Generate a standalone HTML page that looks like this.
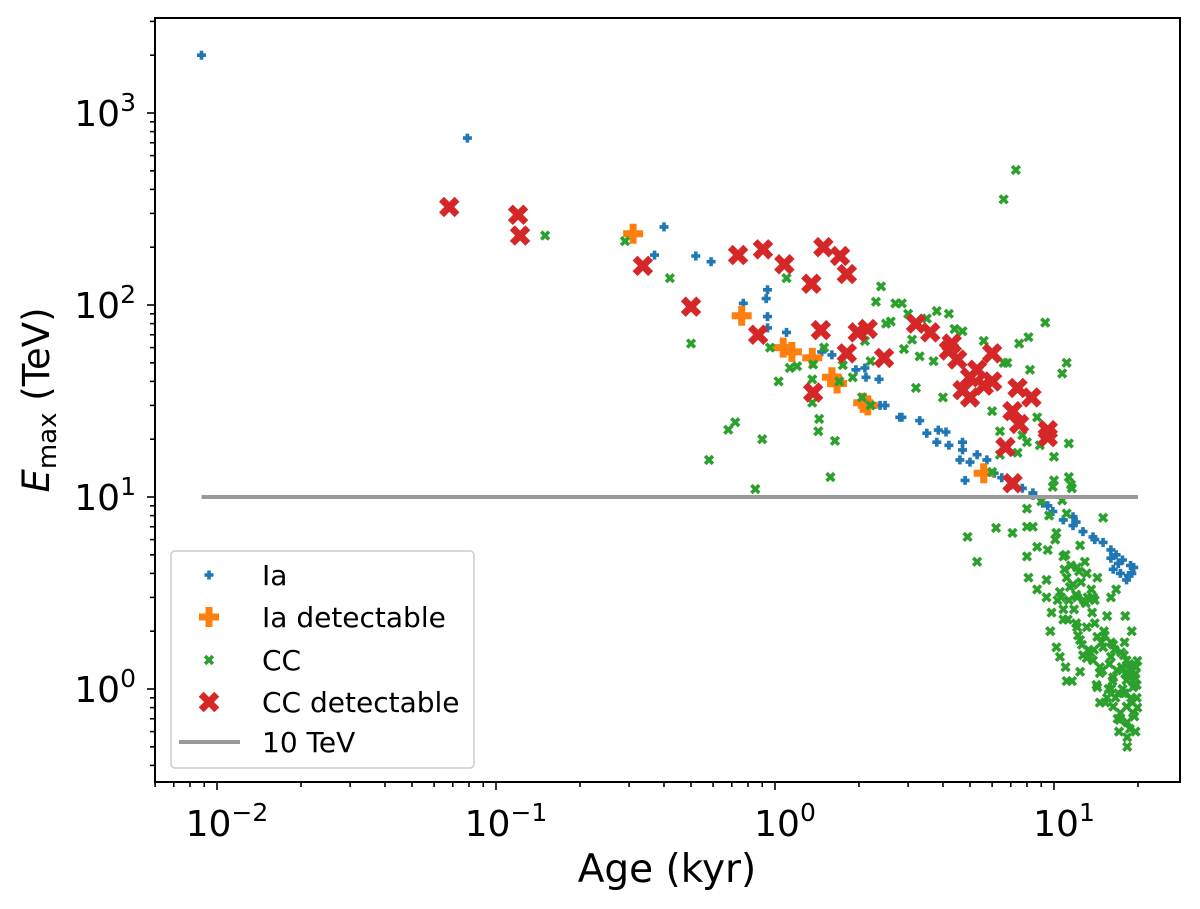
<!DOCTYPE html>
<html><head><meta charset="utf-8"><style>
html,body{margin:0;padding:0;background:#fff;}
svg{display:block;font-family:"DejaVu Sans","Liberation Sans",sans-serif;}
</style></head><body>
<svg id="chart" width="1200" height="909" viewBox="0 0 1200 909" xmlns="http://www.w3.org/2000/svg">
<rect x="0" y="0" width="1200" height="909" fill="#fff"/>
<g id="marks"></g>
<g id="axes"></g>
<rect x="155" y="18" width="1025" height="764" fill="none" stroke="#000" stroke-width="2"/>
<text x="667" y="882" font-size="39" text-anchor="middle">Age (kyr)</text>
<text x="0" y="0" font-size="37" text-anchor="middle" transform="translate(49,400) rotate(-90)"><tspan font-style="italic">E</tspan><tspan font-size="26" dy="7">max</tspan><tspan dy="-7"> (TeV)</tspan></text>
<g>
<rect x="171" y="551" width="303" height="217" rx="4" fill="#fff" fill-opacity="0.8" stroke="#ccc" stroke-width="1.5"/>
<g id="legend-marks"></g>
<text x="262" y="585" font-size="28">Ia</text>
<text x="262" y="627" font-size="28">Ia detectable</text>
<text x="262" y="670" font-size="28">CC</text>
<text x="262" y="712" font-size="28">CC detectable</text>
<text x="262" y="752" font-size="28">10 TeV</text>
<line x1="179" y1="742" x2="240" y2="742" stroke="#999" stroke-width="4"/>
</g>
</svg>
<script>
const iaAge=[0.0088,0.079,0.4,0.37,0.52,0.59,0.94,0.93,0.77,0.94,0.94,1.1,1.47,1.6,1.95,2.1,2.12,2.36,2.38,2.48,2.8,2.85,3.3,3.85,4.1,3.5,3.8,4.2,4.7,4.7,4.6,5.0,5.3,5.75,6.1,6.5,4.8,7.7,8.4,8.4,9.1,9.9,10.8,11.7,12.7,13.8,15,16,16.7,17.6,18.8,19.3,18.2,17.3,16.3,16,11.7,14,17,19,18.5,7,9.5,12];
const iaE=[2000,740,255,182,180,168,120,108,102,87,76,72,57,55,46,47,42,41,30,30,26,26,25,22.3,21.8,21.5,19.3,18.6,19.3,17.6,15.6,15.2,16.6,15.6,13.3,12.6,12.2,11.1,10.5,10.2,9.3,8.4,7.6,7.1,6.6,6.2,5.8,5.3,5.0,4.7,4.4,4.3,3.7,4.0,4.2,4.8,7.9,6.0,4.5,4.0,3.9,11.5,9.0,7.4];
const iadAge=[0.31,0.76,1.07,1.15,1.36,1.6,1.67,2.07,2.15,5.6];
const iadE=[235,88,60,57,53,42,39,31,30,13.3];
const ccAge=[0.15,0.29,0.42,0.5,0.58,0.68,0.72,0.85,0.9,0.96,1.1,1.13,1.03,1.37,1.36,1.36,1.44,1.43,1.64,1.58,1.7,1.75,1.9,2.05,2.2,2.1,2.2,2.3,2.4,2.6,2.7,7.3,6.6,
2.85,3.8,4.2,3.1,2.9,3.3,3.7,4.7,7.5,8.1,9.3,6.6,8.2,11.1,10.7,3.2,4.0,6.0,8.7,6.4,7.7,8.0,8.9,11.3,10,7.4,6.4,10,11.3,11.6,6.0,
4.9,5.3,6.2,7.1,8.0,8.4,8.0,8.1,8.7,9.4,9.4,8.0,8.7,9.5,9.9,11.5,10.7,11.1,10.2,12.4,15,10.8,12.1,11.1,13.1,14.3,10.5,12.1,13.8,16,16.7,10.8,10.8,13.7,15.5,18,19,9.7,10.2,10.5,11,11.1,12.4,12.1,12.4,13.1,14.3,15,16.3,16,13.8,18.2,18.8,14.6,16.3,18.2,14.3,16,17.6,19.2,14.6,16.3,18.2,19.2,17.2,18.3,18.3,18.3,11.6,12.7,
11.5,12.5,13,14,15.2,16.5,17.5,18.5,19.5,19.8,17,15.8,14.8,13.5,19.6,18.9,17.8,16.8,19.4,18,17.3,19.7,15.5,16.2,12.2,11.8,13.3,14.6,17.9,19.9,12.8,11.4,10.3,9.8,
10.6,11.3,12.0,13.2,14.0,10.9,11.7,12.9,9.6,9.0,10.1,11.0,12.3,13.6,15.1,16.0,17.4,18.6,19.6,19.9,15.7,14.9,13.1,16.6,17.7,19.1,18.0,16.9,15.3,14.2,12.6,11.2,19.8,18.7,17.1,19.4,13.9,12.0,1.2,1.5,2.5,3.0,3.5,4.4,5.6,6.8];
const ccE=[230,215,138,63,15.6,22.4,24.5,11,20,60,138,47,40,49,41,31,25.5,22,19.6,12.7,40,48.6,42,33,30,65,51,104,125,82,102,505,355,
102,93,90,66,59,54,51,73,63,68,81,50,46,50,44,37,33,28,26,22,21,19.3,18.6,19,16.2,17,16.6,12.2,12.7,11.1,13.5,
6.2,4.6,6.9,6.5,7,7,4.9,3.8,3.3,3.7,3.0,8.7,5.5,5.3,11.3,11.6,9.6,8.2,6.5,5.6,7.8,4.9,4.3,3.8,4.0,3.8,3.2,3.0,3.0,3.0,3.3,2.6,2.3,2.5,2.4,2.4,2.0,2.0,1.65,1.47,1.3,1.1,1.23,2.1,1.8,2.1,1.87,1.65,1.7,1.47,1.41,1.41,1.26,1.21,1.15,1.11,1.02,1.0,1.0,1.02,0.85,0.81,0.81,0.75,0.69,0.67,0.56,0.5,1.1,1.5,
4.4,3.6,2.8,2.2,1.9,1.6,1.3,1.2,1.05,0.9,0.95,1.35,1.75,1.55,0.6,0.9,1.5,1.25,1.15,0.95,0.75,1.3,0.9,1.1,1.9,2.6,1.6,1.3,1.75,0.8,2.9,3.4,2.9,2.5,
3.0,2.9,3.1,3.0,2.9,4.2,3.5,4.6,8.0,9.5,6.0,5.0,4.1,3.3,2.0,1.75,1.55,1.35,1.2,1.4,1.0,1.25,1.45,0.9,0.95,0.85,1.2,0.7,0.85,1.05,1.7,2.3,1.05,0.62,0.6,0.72,1.6,2.2,48,60,80,90,85,75,65,50];
const ccdAge=[0.068,0.12,0.122,0.336,0.737,0.905,1.08,1.49,1.71,1.81,1.35,0.5,0.87,1.46,1.98,2.15,1.81,2.46,1.37,3.2,3.6,4.3,4.5,5.3,6,4.7,5,6,7.4,8.3,7.1,7.5,9.5,9.5,6.7,7.1,5,4.2,5.6];
const ccdE=[324,295,230,160,182,195,163,200,180,145,129,98,70,74,72,75,56,53,35,80,72,63,52,46,56,36,33,40,37,33,28,24,22.3,20.5,18.2,11.8,42,58,38];
const refAgeRange=[0.0088,20];
const refE=10;
const xTickExps=[-2,-1,0,1];
const yTickExps=[0,1,2,3];

const NS='http://www.w3.org/2000/svg';
const X=a=>775+279*Math.log10(a);
const Y=e=>689-192*Math.log10(e);
const marks=document.getElementById('marks');
const axes=document.getElementById('axes');
function plusPts(L,t){const h=L/2,w=t/2;return [[-w,-h],[w,-h],[w,-w],[h,-w],[h,w],[w,w],[w,h],[-w,h],[-w,w],[-h,w],[-h,-w],[-w,-w]];}
function shape(cx,cy,L,t,rot,color){
  const p=document.createElementNS(NS,'polygon');
  const c=Math.cos(rot),s=Math.sin(rot);
  p.setAttribute('points',plusPts(L,t).map(q=>(cx+q[0]*c-q[1]*s).toFixed(1)+','+(cy+q[0]*s+q[1]*c).toFixed(1)).join(' '));
  p.setAttribute('fill',color);
  return p;
}
function series(ages,es,L,t,rot,color,name,g){
  for(let i=0;i<ages.length;i++){
    const p=shape(X(ages[i]),Y(es[i]),L,t,rot,color);
    
    
    g.appendChild(p);
  }
}
const cl=document.createElementNS(NS,'clipPath');cl.id='pc';
const cr=document.createElementNS(NS,'rect');cr.setAttribute('x',155);cr.setAttribute('y',18);cr.setAttribute('width',1025);cr.setAttribute('height',764);
cl.appendChild(cr);marks.appendChild(cl);marks.setAttribute('clip-path','url(#pc)');
series(iaAge,iaE,9,3.6,0,'#1f77b4','ia-point',marks);
series(iadAge,iadE,20,7,0,'#ff7f0e','ia-detectable-point',marks);
series(ccAge,ccE,11,3.6,Math.PI/4,'#2ca02c','cc-point',marks);
series(ccdAge,ccdE,22,7,Math.PI/4,'#d62728','cc-detectable-point',marks);
const ln=document.createElementNS(NS,'line');
ln.setAttribute('x1',X(refAgeRange[0]));ln.setAttribute('x2',X(refAgeRange[1]));
ln.setAttribute('y1',Y(refE));ln.setAttribute('y2',Y(refE));
ln.setAttribute('stroke','#999');ln.setAttribute('stroke-width',4);


marks.appendChild(ln);
const lg=document.getElementById('legend-marks');
[[0,575,9,3.6,0,'#1f77b4'],[1,617,20,7,0,'#ff7f0e'],[2,660,11,3.6,Math.PI/4,'#2ca02c'],[3,702,22,7,Math.PI/4,'#d62728']].forEach(r=>{
  const p=shape(209,r[1],r[2],r[3],r[4],r[5]);
  
  
  lg.appendChild(p);
});
function tick(x1,y1,x2,y2,name){
  const l=document.createElementNS(NS,'line');
  l.setAttribute('x1',x1);l.setAttribute('y1',y1);l.setAttribute('x2',x2);l.setAttribute('y2',y2);
  l.setAttribute('stroke','#000');l.setAttribute('stroke-width',1.6);
  
  
  axes.appendChild(l);
}
function label(x,y,exp,anchor,name){
  const t=document.createElementNS(NS,'text');
  t.setAttribute('x',x);t.setAttribute('y',y);t.setAttribute('font-size',36);t.setAttribute('text-anchor',anchor);
  t.innerHTML='10<tspan font-size="25" dy="-15">'+(exp<0?'\u2212'+(-exp):exp)+'</tspan>';
  
  
  axes.appendChild(t);
}
for(let d=-3;d<=1;d++){for(let m=1;m<10;m++){const x=X(m*Math.pow(10,d));if(x<155||x>1180)continue;
  if(m===1){tick(x,782,x,790,'x-major-tick');}else{tick(x,782,x,787,'x-minor-tick');}}}
xTickExps.forEach(e=>label(X(Math.pow(10,e))+10,836,e,'middle','x-tick-label'));
for(let d=-1;d<=3;d++){for(let m=1;m<10;m++){const y=Y(m*Math.pow(10,d));if(y<18||y>782)continue;
  if(m===1){tick(147,y,155,y,'y-major-tick');}else{tick(150,y,155,y,'y-minor-tick');}}}
yTickExps.forEach(e=>label(136,Y(Math.pow(10,e))+13,e,'end','y-tick-label'));
</script>
</body></html>
